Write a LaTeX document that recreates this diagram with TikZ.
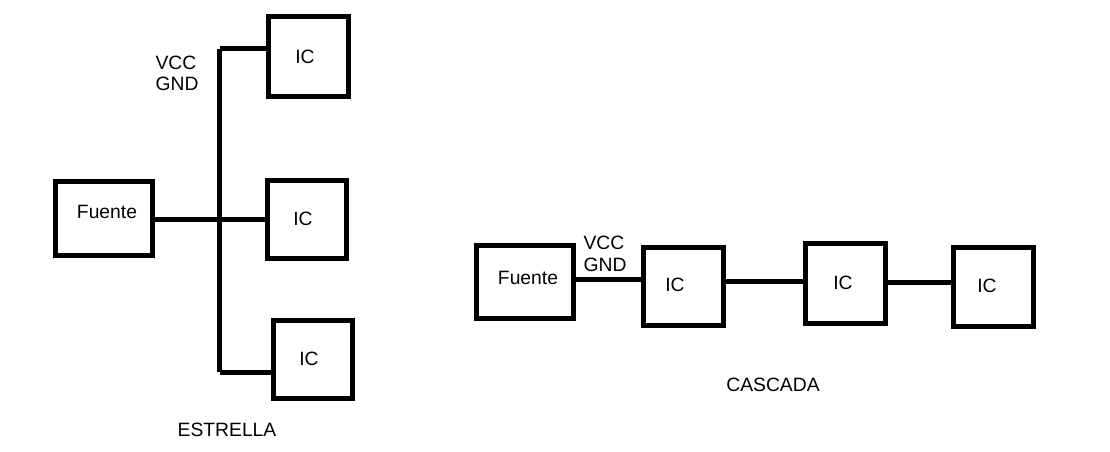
\documentclass[tikz,border=0pt]{standalone}
\usepackage{fontspec}
\setmainfont{Liberation Sans}
\begin{document}
\begin{tikzpicture}[x=1pt,y=-1pt,
  box/.style={draw=black,line width=5pt,inner sep=0pt,outer sep=0pt,fill=white},
  wire/.style={line width=5pt,draw=black},
  lbl/.style={inner sep=0pt,font=\fontsize{19.3}{21.5}\selectfont,text=black},
  pwr/.style={lbl,align=left}]
\useasboundingbox[fill=white] (0,0) rectangle (1110,452);
% ---------- ESTRELLA ----------
\coordinate (bt) at (219.5,49);
\coordinate (bb) at (219.5,372);
\coordinate (bm) at (219.5,219);
\coordinate (bbx) at (276,372);
\draw[wire] (bt) -- (bb);
\node[box,minimum width=97pt,minimum height=74pt] (sF) at (103.5,218) {};
\node[box,minimum width=80pt,minimum height=79pt] (sI1) at (308,56.5) {};
\node[box,minimum width=79pt,minimum height=78pt] (sI2) at (306.5,219) {};
\node[box,minimum width=79pt,minimum height=78pt] (sI3) at (312.5,359) {};
\draw[wire] (sF.east |- bm) -- (sI2.west |- bm);
\draw[wire] (bt) -- (sI1.west |- bt);
\draw[wire] (bb) -- (bbx);
\node[lbl] (tF) at (107,212) {Fuente};
\node[lbl] (tI1) at (305,57) {IC};
\node[lbl] (tI2) at (303,219) {IC};
\node[lbl] (tI3) at (309,359) {IC};
\node[pwr] (sV) at (177,73.5) {VCC\\GND};
\node[lbl] (tE) at (227,430) {ESTRELLA};
% ---------- CASCADA ----------
\coordinate (y1) at (0,279.5);
\coordinate (y2) at (0,281);
\coordinate (y3) at (0,282);
\node[box,minimum width=97pt,minimum height=73pt] (cF) at (524.5,281.5) {};
\node[box,minimum width=79.5pt,minimum height=78pt] (cI1) at (683.25,286) {};
\node[box,minimum width=80pt,minimum height=79.5pt] (cI2) at (845,283.25) {};
\node[box,minimum width=79.5pt,minimum height=79pt] (cI3) at (993.25,286.5) {};
\draw[wire] (cF.east |- y1) -- (cI1.west |- y1);
\draw[wire] (cI1.east |- y2) -- (cI2.west |- y2);
\draw[wire] (cI2.east |- y3) -- (cI3.west |- y3);
\node[lbl] (cTF) at (528,278) {Fuente};
\node[lbl] (cT1) at (675,285) {IC};
\node[lbl] (cT2) at (843,283) {IC};
\node[lbl] (cT3) at (987,286) {IC};
\node[pwr] (cV) at (605,254) {VCC\\GND};
\node[lbl] (tC) at (773,385) {CASCADA};
\end{tikzpicture}
\end{document}
